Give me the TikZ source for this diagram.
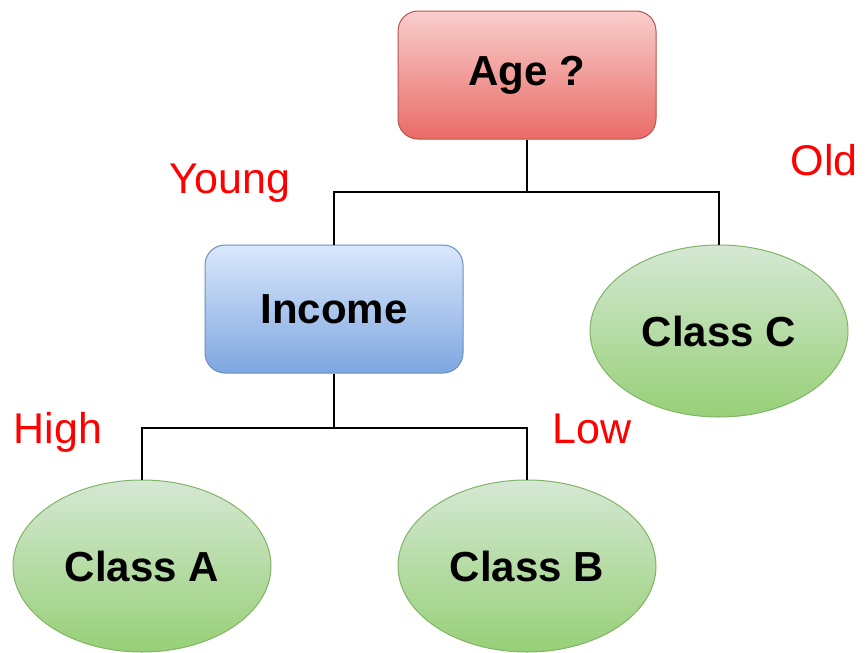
\documentclass[tikz,border=0pt]{standalone}
\usepackage{fontspec}
\setmainfont{Liberation Sans}
\usetikzlibrary{shapes.geometric}
\definecolor{redtop}{HTML}{F8CECC}
\definecolor{redbot}{HTML}{EA6B66}
\definecolor{redline}{HTML}{B85450}
\definecolor{bluetop}{HTML}{DAE8FC}
\definecolor{bluebot}{HTML}{7EA6E0}
\definecolor{blueline}{HTML}{6C8EBF}
\definecolor{greentop}{HTML}{D5E8D4}
\definecolor{greenbot}{HTML}{97D077}
\definecolor{greenline}{HTML}{82B366}
\tikzset{
  boxnode/.style={rectangle, rounded corners=20pt, minimum width=258pt, minimum height=128pt, inner sep=0pt, line width=1pt, font=\fontsize{42}{50}\selectfont\bfseries},
  agebox/.style={boxnode, draw=redline, top color=redtop, bottom color=redbot},
  incbox/.style={boxnode, draw=blueline, top color=bluetop, bottom color=bluebot},
  leaf/.style={ellipse, minimum width=258pt, minimum height=172pt, inner sep=0pt, line width=1pt, draw=greenline, top color=greentop, bottom color=greenbot, font=\fontsize{42}{50}\selectfont\bfseries},
  branch/.style={text=red, font=\fontsize{43}{50}\selectfont, inner sep=0pt, anchor=base},
  conn/.style={line width=2pt, black}
}
\begin{document}
\begin{tikzpicture}[x=1pt,y=-1pt]
\useasboundingbox (0,0) rectangle (865,653);
\node[agebox] (age) at (527,75) {Age ?};
\node[incbox] (income) at (334,309) {Income};
\node[leaf] (classC) at (719,331) {Class C};
\node[leaf] (classA) at (142,566) {Class A};
\node[leaf] (classB) at (527,566) {Class B};
\coordinate (j1) at (527,192);
\coordinate (j2) at (334,428);
\draw[conn] (age.south) -- (j1);
\draw[conn] (income.north) -- (income.north |- j1) -- (classC.north |- j1) -- (classC.north);
\draw[conn] (income.south) -- (j2);
\draw[conn] (classA.north) -- (classA.north |- j2) -- (classB.north |- j2) -- (classB.north);
\node[branch] (young) at (230,193) {Young};
\node[branch] (old) at (824,175) {Old};
\node[branch] (high) at (58,443) {High};
\node[branch] (low) at (592,443) {Low};
\end{tikzpicture}
\end{document}
